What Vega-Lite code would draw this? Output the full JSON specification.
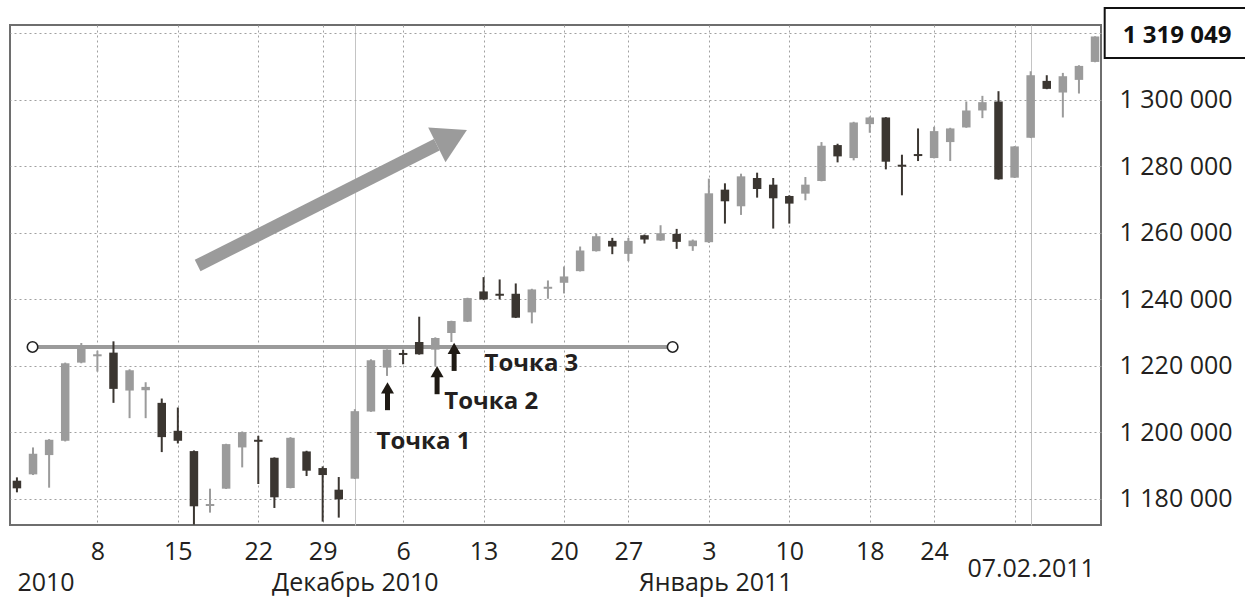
{
  "$schema": "https://vega.github.io/schema/vega-lite/v6.json",
  "width": 1091,
  "height": 500,
  "autosize": {"type": "none"},
  "padding": {"left": 10, "top": 25, "right": 144, "bottom": 77},
  "background": "white",
  "config": {"view": {"stroke": "#6e6e6e", "strokeWidth": 2}, "font": "Open Sans"},
  "datasets": {
    "candles": [
      {"date": "2010-11-01", "i": 0, "o": 1185500, "h": 1186500, "l": 1182000, "c": 1183200},
      {"date": "2010-11-02", "i": 1, "o": 1187400, "h": 1195500, "l": 1187200, "c": 1193600},
      {"date": "2010-11-03", "i": 2, "o": 1193200, "h": 1198000, "l": 1183400, "c": 1197800},
      {"date": "2010-11-04", "i": 3, "o": 1197500, "h": 1221000, "l": 1197300, "c": 1220800},
      {"date": "2010-11-05", "i": 4, "o": 1221000, "h": 1226900, "l": 1220800, "c": 1225900},
      {"date": "2010-11-08", "i": 5, "o": 1222900, "h": 1224600, "l": 1218300, "c": 1223500},
      {"date": "2010-11-09", "i": 6, "o": 1224000, "h": 1227400, "l": 1208900, "c": 1213100},
      {"date": "2010-11-10", "i": 7, "o": 1212600, "h": 1219000, "l": 1204300, "c": 1218700},
      {"date": "2010-11-11", "i": 8, "o": 1212700, "h": 1215100, "l": 1204300, "c": 1213700},
      {"date": "2010-11-12", "i": 9, "o": 1208900, "h": 1210200, "l": 1194100, "c": 1198600},
      {"date": "2010-11-15", "i": 10, "o": 1200500, "h": 1207500, "l": 1196700, "c": 1197500},
      {"date": "2010-11-16", "i": 11, "o": 1194400, "h": 1194600, "l": 1172300, "c": 1177800},
      {"date": "2010-11-17", "i": 12, "o": 1177900, "h": 1183100, "l": 1175900, "c": 1178500},
      {"date": "2010-11-18", "i": 13, "o": 1183100, "h": 1196600, "l": 1183000, "c": 1196500},
      {"date": "2010-11-19", "i": 14, "o": 1195500, "h": 1200300, "l": 1189500, "c": 1200100},
      {"date": "2010-11-22", "i": 15, "o": 1197800, "h": 1199000, "l": 1184500, "c": 1197200},
      {"date": "2010-11-23", "i": 16, "o": 1192400, "h": 1192500, "l": 1177300, "c": 1180500},
      {"date": "2010-11-24", "i": 17, "o": 1183300, "h": 1198600, "l": 1183200, "c": 1198400},
      {"date": "2010-11-26", "i": 18, "o": 1194300, "h": 1194500, "l": 1186900, "c": 1188500},
      {"date": "2010-11-29", "i": 19, "o": 1189300, "h": 1189800, "l": 1173200, "c": 1187200},
      {"date": "2010-11-30", "i": 20, "o": 1182800, "h": 1186600, "l": 1174400, "c": 1179900},
      {"date": "2010-12-01", "i": 21, "o": 1186100, "h": 1207000, "l": 1186000, "c": 1206400},
      {"date": "2010-12-02", "i": 22, "o": 1206300, "h": 1222000, "l": 1206200, "c": 1221700},
      {"date": "2010-12-03", "i": 23, "o": 1219500, "h": 1225000, "l": 1217000, "c": 1224900},
      {"date": "2010-12-06", "i": 24, "o": 1223900, "h": 1224900, "l": 1220500, "c": 1223300},
      {"date": "2010-12-07", "i": 25, "o": 1227200, "h": 1234800, "l": 1223400, "c": 1223500},
      {"date": "2010-12-08", "i": 26, "o": 1224900, "h": 1228600, "l": 1220000, "c": 1228400},
      {"date": "2010-12-09", "i": 27, "o": 1229900, "h": 1233600, "l": 1227200, "c": 1233500},
      {"date": "2010-12-10", "i": 28, "o": 1233300, "h": 1240500, "l": 1233200, "c": 1240400},
      {"date": "2010-12-13", "i": 29, "o": 1242400, "h": 1246700, "l": 1239800, "c": 1240000},
      {"date": "2010-12-14", "i": 30, "o": 1241700, "h": 1246000, "l": 1240000, "c": 1241100},
      {"date": "2010-12-15", "i": 31, "o": 1241700, "h": 1244800, "l": 1234400, "c": 1234500},
      {"date": "2010-12-16", "i": 32, "o": 1236100, "h": 1243200, "l": 1232800, "c": 1243000},
      {"date": "2010-12-17", "i": 33, "o": 1243200, "h": 1245700, "l": 1240200, "c": 1243800},
      {"date": "2010-12-20", "i": 34, "o": 1245000, "h": 1249900, "l": 1241800, "c": 1246900},
      {"date": "2010-12-21", "i": 35, "o": 1248500, "h": 1255900, "l": 1248400, "c": 1254700},
      {"date": "2010-12-22", "i": 36, "o": 1254500, "h": 1259800, "l": 1254400, "c": 1259000},
      {"date": "2010-12-23", "i": 37, "o": 1257600, "h": 1258500, "l": 1253600, "c": 1255900},
      {"date": "2010-12-27", "i": 38, "o": 1253700, "h": 1258500, "l": 1251500, "c": 1257600},
      {"date": "2010-12-28", "i": 39, "o": 1259300, "h": 1259500, "l": 1256800, "c": 1258000},
      {"date": "2010-12-29", "i": 40, "o": 1257700, "h": 1262300, "l": 1257600, "c": 1259900},
      {"date": "2010-12-30", "i": 41, "o": 1259700, "h": 1261200, "l": 1255200, "c": 1257300},
      {"date": "2010-12-31", "i": 42, "o": 1256000, "h": 1258000, "l": 1254600, "c": 1257700},
      {"date": "2011-01-03", "i": 43, "o": 1257200, "h": 1276300, "l": 1257000, "c": 1271900},
      {"date": "2011-01-04", "i": 44, "o": 1273000, "h": 1274900, "l": 1262800, "c": 1269500},
      {"date": "2011-01-05", "i": 45, "o": 1268000, "h": 1277800, "l": 1265400, "c": 1277000},
      {"date": "2011-01-06", "i": 46, "o": 1276500, "h": 1278100, "l": 1270600, "c": 1273200},
      {"date": "2011-01-07", "i": 47, "o": 1274500, "h": 1276500, "l": 1261300, "c": 1270400},
      {"date": "2011-01-10", "i": 48, "o": 1271100, "h": 1271300, "l": 1262800, "c": 1268800},
      {"date": "2011-01-11", "i": 49, "o": 1271800, "h": 1276800, "l": 1269800, "c": 1274500},
      {"date": "2011-01-12", "i": 50, "o": 1275600, "h": 1287300, "l": 1275500, "c": 1286200},
      {"date": "2011-01-13", "i": 51, "o": 1286400, "h": 1286800, "l": 1281200, "c": 1283000},
      {"date": "2011-01-14", "i": 52, "o": 1282500, "h": 1293400, "l": 1281800, "c": 1293200},
      {"date": "2011-01-18", "i": 53, "o": 1292700, "h": 1295000, "l": 1290100, "c": 1294700},
      {"date": "2011-01-19", "i": 54, "o": 1294700, "h": 1294800, "l": 1279100, "c": 1281400},
      {"date": "2011-01-20", "i": 55, "o": 1280500, "h": 1283500, "l": 1271300, "c": 1279900},
      {"date": "2011-01-21", "i": 56, "o": 1283700, "h": 1291400, "l": 1281600, "c": 1283100},
      {"date": "2011-01-24", "i": 57, "o": 1282500, "h": 1291900, "l": 1282400, "c": 1290600},
      {"date": "2011-01-25", "i": 58, "o": 1287300, "h": 1291600, "l": 1281600, "c": 1291400},
      {"date": "2011-01-26", "i": 59, "o": 1291700, "h": 1299500, "l": 1291600, "c": 1296800},
      {"date": "2011-01-27", "i": 60, "o": 1296800, "h": 1301200, "l": 1294500, "c": 1299300},
      {"date": "2011-01-28", "i": 61, "o": 1299500, "h": 1302600, "l": 1276000, "c": 1276100},
      {"date": "2011-01-31", "i": 62, "o": 1276600, "h": 1286100, "l": 1276500, "c": 1286000},
      {"date": "2011-02-01", "i": 63, "o": 1288600, "h": 1308600, "l": 1288500, "c": 1307400},
      {"date": "2011-02-02", "i": 64, "o": 1305700, "h": 1307400, "l": 1303200, "c": 1303300},
      {"date": "2011-02-03", "i": 65, "o": 1302200, "h": 1308100, "l": 1294700, "c": 1307100},
      {"date": "2011-02-04", "i": 66, "o": 1306000, "h": 1310400, "l": 1301900, "c": 1310200},
      {"date": "2011-02-07", "i": 67, "o": 1311400, "h": 1319100, "l": 1311300, "c": 1319049}
    ],
    "level": [{"i": 0.97, "i2": 40.75, "p": 1225700}],
    "levelEnds": [{"i": 0.97, "p": 1225700}, {"i": 40.75, "p": 1225700}],
    "trend": [{"i": 11.23, "p": 1250200, "i2": 26.09, "p2": 1286500}],
    "trendHead": [{"i": 27.03, "p": 1288700}],
    "points": [
      {"label": "Точка 1", "i": 23.03, "head": 1213400, "bottom": 1206700, "ti": 22.35, "tp": 1194960},
      {"label": "Точка 2", "i": 26.11, "head": 1218300, "bottom": 1211500, "ti": 26.56, "tp": 1207200},
      {"label": "Точка 3", "i": 27.17, "head": 1225300, "bottom": 1218500, "ti": 29.06, "tp": 1218500}
    ],
    "last": [{"label": "1 319 049", "price": 1319049}]
  },
  "layer": [
    {
      "data": {"name": "level"},
      "mark": {"type": "rule", "strokeWidth": 4, "color": "#9b9b9b"},
      "encoding": {
        "x": {
          "field": "i",
          "type": "quantitative",
          "title": null,
          "scale": {"domain": [-0.12, 67.06], "nice": false, "zero": false},
          "axis": {
            "values": [0, 5, 10, 15, 19, 21, 24, 29, 34, 38, 43, 43.4, 48, 53, 57, 62, 63],
            "labelExpr": "datum.value == 0 ? '2010' : datum.value == 5 ? '8' : datum.value == 10 ? '15' : datum.value == 15 ? '22' : datum.value == 19 ? '29' : datum.value == 21 ? 'Декабрь 2010' : datum.value == 24 ? '6' : datum.value == 29 ? '13' : datum.value == 34 ? '20' : datum.value == 38 ? '27' : datum.value == 43 ? '3' : datum.value == 43.4 ? 'Январь 2011' : datum.value == 48 ? '10' : datum.value == 53 ? '18' : datum.value == 57 ? '24' : datum.value == 63 ? '07.02.2011' : ''",
            "title": null,
            "ticks": false,
            "domain": false,
            "labelFont": "Open Sans",
            "labelFontSize": 25,
            "labelColor": "#231f20",
            "labelOverlap": false,
            "labelFlush": false,
            "labelBound": false,
            "labelBaseline": "top",
            "labelAlign": {"condition": {"test": "datum.value == 0", "value": "left"}, "value": "center"},
            "labelPadding": {"condition": [{"test": "datum.value == 0 || datum.value == 21 || datum.value == 43.4", "value": 45}, {"test": "datum.value == 63", "value": 31}], "value": 14},
            "grid": true,
            "gridWidth": 1,
            "gridColor": {"condition": {"test": "datum.value == 21 || datum.value == 63", "value": "#c4c4c4"}, "value": "#a0a0a0"},
            "gridDash": {"condition": {"test": "datum.value == 21 || datum.value == 63", "value": []}, "value": [2, 3]},
            "gridOpacity": {"condition": {"test": "datum.value == 0 || datum.value == 43.4", "value": 0}, "value": 1}
          }
        },
        "x2": {"field": "i2"},
        "y": {"field": "p", "type": "quantitative", "title": null, "scale": {"domain": [1172180, 1322500], "nice": false, "zero": false},
          "axis": {
            "orient": "right",
            "values": [1180000, 1200000, 1220000, 1240000, 1260000, 1280000, 1300000, 1320000],
            "labelExpr": "datum.value == 1320000 ? '' : replace(format(datum.value, ','), regexp(',', 'g'), ' ')",
            "title": null,
            "ticks": false,
            "domain": false,
            "labelFont": "Open Sans",
            "labelFontSize": 25,
            "labelColor": "#231f20",
            "labelAlign": "left",
            "labelBaseline": "middle",
            "labelPadding": 18,
            "labelOverlap": false,
            "labelBound": false,
            "labelFlush": false,
            "grid": true,
            "gridColor": "#a0a0a0",
            "gridDash": [2, 3],
            "gridWidth": 1
          }
        }
      }
    },
    {
      "data": {"name": "trend"},
      "mark": {"type": "rule", "strokeWidth": 12.7, "color": "#9b9b9b", "strokeCap": "butt"},
      "encoding": {
        "x": {"field": "i", "type": "quantitative", "title": null},
        "x2": {"field": "i2"},
        "y": {"field": "p", "type": "quantitative", "title": null},
        "y2": {"field": "p2"}
      }
    },
    {
      "data": {"name": "trendHead"},
      "mark": {"type": "point", "shape": "M-0.866,-1L0.866,0L-0.866,1Z", "size": 1505, "angle": 333.5, "filled": true, "color": "#9b9b9b", "opacity": 1, "strokeWidth": 0},
      "encoding": {
        "x": {"field": "i", "type": "quantitative", "title": null},
        "y": {"field": "p", "type": "quantitative", "title": null}
      }
    },
    {
      "data": {"name": "candles"},
      "mark": {"type": "rule", "strokeWidth": 2, "clip": true},
      "encoding": {
        "x": {"field": "i", "type": "quantitative", "title": null},
        "y": {"field": "l", "type": "quantitative", "title": null},
        "y2": {"field": "h"},
        "color": {"condition": {"test": "datum.c >= datum.o", "value": "#9b9b9b"}, "value": "#3b3631"}
      }
    },
    {
      "data": {"name": "candles"},
      "mark": {"type": "bar", "width": 8.5, "clip": true},
      "encoding": {
        "x": {"field": "i", "type": "quantitative", "title": null},
        "y": {"field": "o", "type": "quantitative", "title": null},
        "y2": {"field": "c"},
        "color": {"condition": {"test": "datum.c >= datum.o", "value": "#9b9b9b"}, "value": "#3b3631"}
      }
    },
    {
      "data": {"name": "levelEnds"},
      "mark": {"type": "point", "shape": "circle", "size": 110, "filled": true, "fill": "white", "stroke": "#222222", "strokeWidth": 1.6, "opacity": 1},
      "encoding": {
        "x": {"field": "i", "type": "quantitative", "title": null},
        "y": {"field": "p", "type": "quantitative", "title": null}
      }
    },
    {
      "data": {"name": "points"},
      "mark": {"type": "rule", "strokeWidth": 5, "color": "#1f1a14"},
      "encoding": {
        "x": {"field": "i", "type": "quantitative", "title": null},
        "y": {"field": "bottom", "type": "quantitative", "title": null},
        "y2": {"field": "head"}
      }
    },
    {
      "data": {"name": "points"},
      "mark": {"type": "point", "shape": "triangle-up", "size": 169, "filled": true, "color": "#1f1a14", "opacity": 1, "strokeWidth": 0},
      "encoding": {
        "x": {"field": "i", "type": "quantitative", "title": null},
        "y": {"field": "head", "type": "quantitative", "title": null}
      }
    },
    {
      "data": {"name": "points"},
      "mark": {"type": "text", "align": "left", "baseline": "alphabetic", "font": "Open Sans", "fontSize": 24, "fontWeight": "bold", "color": "#231f20"},
      "encoding": {
        "x": {"field": "ti", "type": "quantitative", "title": null},
        "y": {"field": "tp", "type": "quantitative", "title": null},
        "text": {"field": "label"}
      }
    },
    {
      "data": {"name": "last"},
      "mark": {"type": "rect", "fill": "white", "stroke": "#111111", "strokeWidth": 2, "clip": false},
      "encoding": {
        "x": {"datum": 67.6, "type": "quantitative", "title": null},
        "x2": {"datum": 78.5},
        "y": {"datum": 1327611, "type": "quantitative", "title": null},
        "y2": {"datum": 1312579}
      }
    },
    {
      "data": {"name": "last"},
      "mark": {"type": "text", "align": "center", "baseline": "middle", "font": "Open Sans", "fontSize": 24, "fontWeight": "bold", "color": "#111111", "clip": false},
      "encoding": {
        "x": {"datum": 72.1, "type": "quantitative", "title": null},
        "y": {"field": "price", "type": "quantitative", "title": null},
        "text": {"field": "label"}
      }
    }
  ]
}
